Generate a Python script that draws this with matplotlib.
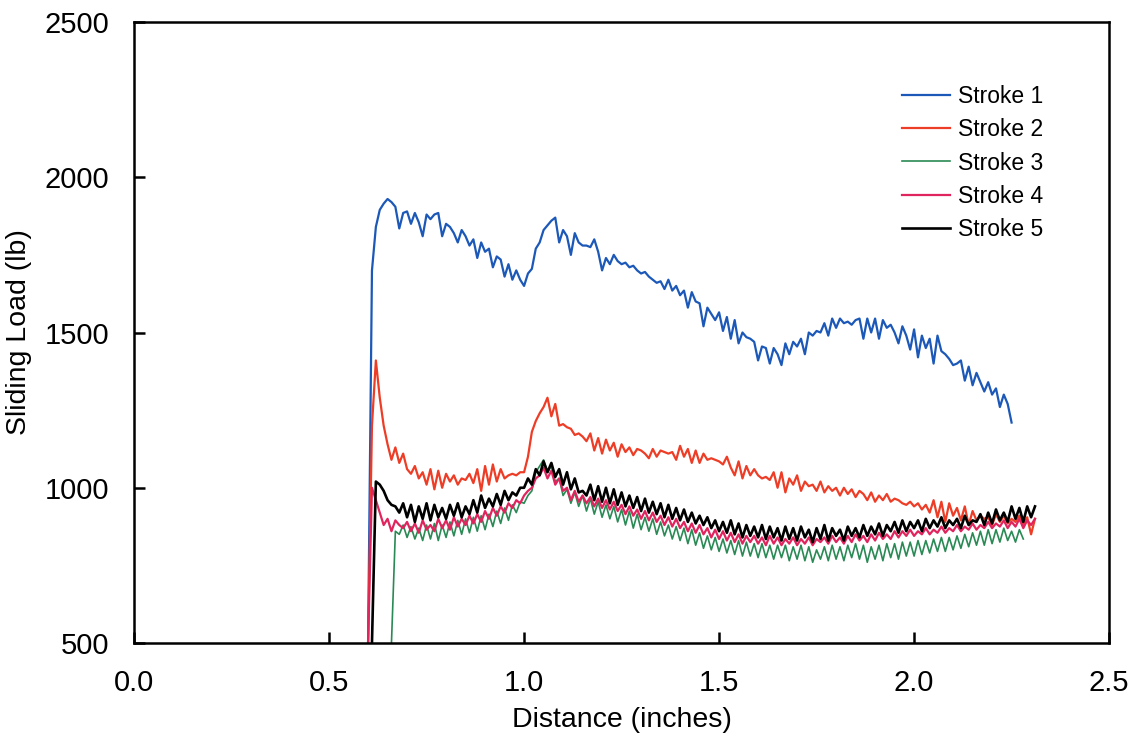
import numpy as np
import matplotlib
matplotlib.use("Agg")
import matplotlib.pyplot as plt

plt.rcParams['font.family'] = ['Liberation Sans', 'DejaVu Sans']

x_start = {"Stroke 1": 0.60, "Stroke 2": 0.60, "Stroke 3": 0.66, "Stroke 4": 0.60, "Stroke 5": 0.61}
x_step = 0.01

stroke1 = [500, 1700, 1840, 1895, 1915, 1930, 1920, 1905, 1835, 1885,
           1890, 1850, 1885, 1855, 1810, 1880, 1865, 1880, 1885, 1810,
           1850, 1840, 1820, 1790, 1830, 1810, 1780, 1800, 1740, 1790,
           1760, 1770, 1710, 1745, 1735, 1680, 1720, 1670, 1700, 1670,
           1650, 1690, 1705, 1770, 1790, 1830, 1845, 1860, 1870, 1790,
           1830, 1810, 1750, 1820, 1790, 1780, 1780, 1775, 1800, 1760,
           1700, 1740, 1720, 1750, 1730, 1720, 1725, 1710, 1715, 1700,
           1690, 1695, 1680, 1670, 1660, 1665, 1640, 1670, 1635, 1650,
           1620, 1635, 1580, 1630, 1600, 1594, 1520, 1580, 1560, 1540,
           1565, 1505, 1550, 1480, 1540, 1465, 1500, 1485, 1480, 1470,
           1410, 1455, 1450, 1400, 1450, 1430, 1395, 1465, 1430, 1470,
           1455, 1480, 1430, 1500, 1490, 1505, 1500, 1530, 1490, 1545,
           1515, 1545, 1530, 1535, 1525, 1540, 1545, 1480, 1545, 1500,
           1545, 1480, 1540, 1515, 1525, 1500, 1465, 1520, 1490, 1445,
           1510, 1420, 1490, 1450, 1480, 1400, 1490, 1440, 1430, 1415,
           1395, 1400, 1410, 1345, 1390, 1330, 1370, 1340, 1310, 1340,
           1300, 1320, 1260, 1300, 1270, 1210]

stroke2 = [500, 1200, 1410, 1290, 1200, 1140, 1090, 1130, 1080, 1110,
           1060, 1045, 1070, 1030, 1050, 1010, 1060, 995, 1055, 1000,
           1045, 1020, 1040, 1010, 1030, 1025, 1045, 1015, 1060, 990,
           1070, 1010, 1075, 1020, 1060, 1030, 1040, 1045, 1040, 1050,
           1050, 1100, 1180, 1215, 1240, 1260, 1290, 1230, 1270, 1200,
           1205, 1195, 1190, 1170, 1175, 1165, 1150, 1175, 1120, 1160,
           1110, 1155, 1120, 1145, 1100, 1140, 1115, 1130, 1105, 1125,
           1120, 1110, 1095, 1125, 1100, 1120, 1115, 1110, 1115, 1090,
           1135, 1100, 1125, 1080, 1120, 1080, 1110, 1090, 1095, 1090,
           1085, 1075, 1100, 1065, 1040, 1085, 1030, 1070, 1040, 1060,
           1040, 1030, 1035, 1025, 1050, 1000, 1050, 985, 1030, 1010,
           1040, 990, 1020, 1005, 1010, 990, 1020, 985, 1005, 990,
           1000, 975, 1000, 980, 995, 970, 990, 980, 960, 985,
           955, 975, 960, 980, 955, 965, 960, 950, 945, 955,
           940, 950, 930, 945, 920, 960, 905, 955, 890, 950,
           910, 935, 895, 940, 880, 925, 895, 910, 900, 905,
           880, 915, 890, 910, 885, 900, 890, 910, 880, 905,
           850, 900]

stroke3 = [500, 860, 850, 880,
           840, 875, 835, 870, 830, 880, 835, 885, 830, 880,
           840, 890, 845, 895, 850, 900, 855, 905, 860, 910,
           865, 915, 875, 925, 885, 935, 895, 945, 920, 955,
           950, 975, 990, 1050, 1070, 1090, 1050, 1070, 1020, 1030,
           975, 995, 950, 985, 940, 975, 925, 965, 915, 955,
           905, 945, 900, 940, 890, 930, 880, 925, 870, 915,
           865, 905, 860, 900, 850, 890, 845, 880, 835, 875,
           830, 870, 820, 865, 815, 855, 805, 845, 800, 840,
           795, 835, 790, 830, 785, 830, 780, 825, 780, 820,
           775, 820, 775, 815, 770, 815, 775, 815, 765, 810,
           770, 815, 765, 810, 760, 800, 770, 810, 765, 815,
           770, 810, 765, 815, 775, 820, 770, 815, 760, 810,
           770, 815, 765, 820, 775, 820, 770, 825, 780, 825,
           780, 830, 785, 830, 790, 835, 795, 840, 795, 840,
           800, 845, 805, 850, 810, 855, 815, 860, 815, 865,
           820, 865, 825, 870, 830, 860, 825, 865, 835]

stroke4 = [500, 1000, 960, 920, 880, 900, 860, 895, 880, 870,
           890, 860, 885, 855, 895, 865, 880, 860, 900, 870,
           895, 865, 905, 875, 900, 880, 910, 885, 915, 890,
           925, 900, 935, 910, 940, 920, 950, 935, 960, 950,
           975, 990, 1000, 1030, 1040, 1065, 1030, 1055, 1010, 1030,
           990, 1000, 960, 990, 955, 975, 950, 970, 940, 965,
           935, 960, 930, 955, 925, 945, 915, 940, 910, 930,
           900, 925, 895, 920, 890, 910, 880, 905, 875, 900,
           870, 890, 860, 885, 855, 880, 850, 870, 840, 865,
           835, 860, 830, 855, 825, 850, 820, 845, 825, 845,
           820, 840, 815, 845, 820, 840, 815, 835, 820, 840,
           815, 835, 820, 840, 815, 835, 825, 840, 820, 845,
           825, 840, 820, 845, 825, 850, 830, 845, 825, 850,
           830, 855, 835, 850, 835, 860, 840, 860, 845, 865,
           845, 860, 850, 870, 850, 865, 855, 875, 855, 870,
           860, 880, 860, 875, 865, 885, 865, 880, 870, 890,
           870, 885, 875, 895, 870, 890, 875, 900, 870, 895,
           880, 900]

stroke5 = [500, 1020, 1010, 990, 960, 945, 940, 920, 950,
           905, 945, 890, 940, 900, 950, 895, 945, 905, 935,
           900, 945, 910, 950, 905, 940, 915, 960, 920, 975,
           935, 965, 940, 980, 945, 990, 960, 985, 975, 1000,
           1000, 1030, 1010, 1060, 1040, 1085, 1050, 1080, 1035, 1060,
           1010, 1050, 995, 1030, 985, 990, 975, 1010, 960, 1005,
           955, 1000, 950, 995, 945, 985, 940, 975, 935, 970,
           925, 965, 920, 955, 915, 950, 905, 945, 900, 935,
           895, 930, 890, 920, 885, 910, 880, 905, 870, 895,
           860, 890, 855, 895, 850, 885, 840, 880, 845, 875,
           840, 880, 835, 875, 840, 870, 830, 875, 835, 870,
           830, 875, 840, 865, 825, 870, 835, 880, 830, 870,
           845, 865, 830, 875, 845, 870, 840, 880, 845, 875,
           850, 885, 845, 880, 860, 890, 855, 895, 860, 890,
           870, 895, 860, 900, 870, 895, 875, 905, 870, 895,
           880, 900, 870, 910, 880, 895, 890, 915, 880, 920,
           885, 930, 895, 920, 890, 940, 900, 935, 890, 940,
           905, 940]

series = {"Stroke 1": stroke1, "Stroke 2": stroke2, "Stroke 3": stroke3,
          "Stroke 4": stroke4, "Stroke 5": stroke5}
colors = {"Stroke 1": "#1c58b8", "Stroke 2": "#ee3d26", "Stroke 3": "#2a8a55",
          "Stroke 4": "#e0245e", "Stroke 5": "#000000"}
widths = {"Stroke 1": 1.6, "Stroke 2": 1.6, "Stroke 3": 1.2, "Stroke 4": 1.6, "Stroke 5": 1.9}

x_ticks = [0.0, 0.5, 1.0, 1.5, 2.0, 2.5]
y_ticks = [500, 1000, 1500, 2000, 2500]

fig = plt.figure(figsize=(11.38, 7.38), dpi=100)
ax = fig.add_axes([0.1178, 0.1287, 0.8568, 0.8415])

for name, vals in series.items():
    vals = np.array(vals, dtype=float)
    xs = x_start[name] + x_step * np.arange(len(vals))
    ax.plot(xs, vals, color=colors[name], lw=widths[name], label=name)

ax.set_xlim(0, 2.5)
ax.set_ylim(500, 2500)
ax.set_xticks(x_ticks)
ax.set_xticklabels([f"{t:.1f}" for t in x_ticks])
ax.set_yticks(y_ticks)
ax.tick_params(direction='in', length=8, width=1.8, labelsize=21)
ax.tick_params(axis='x', pad=19)
ax.tick_params(axis='y', pad=18)
for sp in ax.spines.values():
    sp.set_linewidth(1.8)

ax.set_xlabel("Distance (inches)", fontsize=20.5, labelpad=7)
ax.set_ylabel("Sliding Load (lb)", fontsize=20.5, labelpad=9)

leg = ax.legend(loc='upper left', bbox_to_anchor=(0.7877, 0.898), frameon=False,
                borderpad=0, borderaxespad=0,
                fontsize=16.5, handlelength=2.1, handletextpad=0.35, labelspacing=0.44)

fig.savefig("out.png", dpi=100)
